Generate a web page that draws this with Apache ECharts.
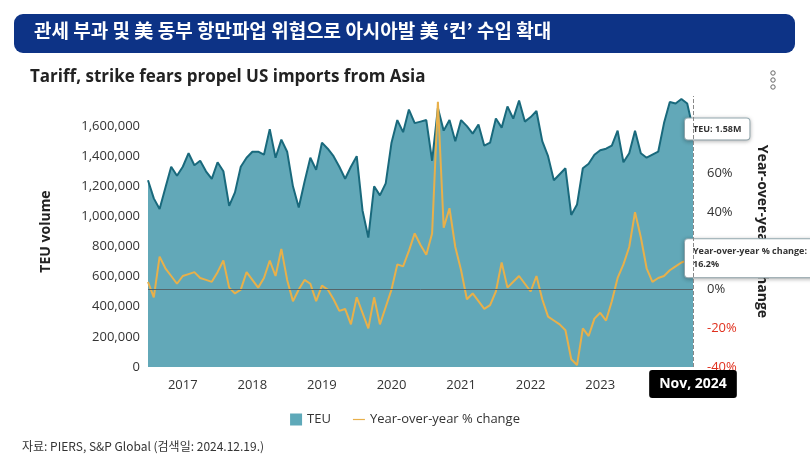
<!DOCTYPE html>
<html>
<head>
<meta charset="utf-8">
<script src="https://cdn.jsdelivr.net/npm/echarts@6/dist/echarts.min.js"></script>
<style>
  html, body { margin: 0; padding: 0; background: #fff; }
  #chart { width: 810px; height: 467px; }
</style>
</head>
<body>
<div id="chart"></div>
<script>
// monthly, Jan 2017 - Nov 2024
const years = [2017, 2018, 2019, 2020, 2021, 2022, 2023, 2024];
const monthNames = ['Jan', 'Feb', 'Mar', 'Apr', 'May', 'Jun', 'Jul', 'Aug', 'Sep', 'Oct', 'Nov', 'Dec'];

// TEU volume, millions
const teu = [
  1.24, 1.12, 1.05, 1.19, 1.33, 1.27, 1.33, 1.42, 1.34, 1.37, 1.30, 1.25,
  1.36, 1.30, 1.07, 1.16, 1.33, 1.39, 1.43, 1.43, 1.41, 1.58, 1.39, 1.51,
  1.43, 1.20, 1.06, 1.23, 1.39, 1.31, 1.49, 1.45, 1.40, 1.33, 1.25, 1.33,
  1.40, 1.04, 0.86, 1.20, 1.14, 1.22, 1.49, 1.64, 1.56, 1.71, 1.62, 1.63,
  1.64, 1.37, 1.72, 1.57, 1.64, 1.50, 1.64, 1.60, 1.55, 1.61, 1.47, 1.49,
  1.65, 1.59, 1.73, 1.65, 1.77, 1.63, 1.66, 1.70, 1.50, 1.40, 1.24, 1.28,
  1.32, 1.01, 1.08, 1.32, 1.35, 1.41, 1.44, 1.45, 1.47, 1.57, 1.36, 1.42,
  1.57, 1.42, 1.39, 1.41, 1.43, 1.62, 1.76, 1.75, 1.78, 1.75, 1.58
];

// year-over-year % change
const yoy = [
  4, -4, 17, 11, 7, 3, 7, 8, 9, 6, 5, 4,
  9, 15, 1, -2, 0, 9, 5, 1, 6, 15, 7, 21,
  5, -6, 0, 5, 3, -6, 2, 0, -5, -11, -10, -18,
  -4, -12, -20, -4, -18, -9, 0, 13, 12, 20, 29, 23,
  18, 29, 97, 32, 42, 22, 10, -5, -2, -6, -10, -8,
  -1, 14, 1, 4, 7, 3, -1, 7, -5, -14, -16, -18,
  -21, -36, -39, -20, -24, -15, -12, -16, -6, 6, 13, 22,
  40, 27, 11, 4, 6, 7, 10, 12, 14, 15, 16.2
];

const categories = [];
years.forEach(y => monthNames.forEach(m => categories.push(m + ', ' + y)));
categories.length = teu.length;

const teuData = teu.map(v => Math.round(v * 1000000));
const last = categories.length - 1;

const chart = echarts.init(document.getElementById('chart'));

const boxLabel = {
  show: true,
  backgroundColor: '#fff',
  borderColor: '#9fb6bd',
  borderWidth: 1,
  borderRadius: 3,
  shadowColor: 'rgba(0,0,0,0.25)',
  shadowBlur: 4,
  shadowOffsetY: 1,
  padding: [6, 8],
  color: '#333',
  fontSize: 9,
  fontWeight: 'bold',
  align: 'left',
  fontFamily: 'Open Sans'
};

chart.setOption({
  animation: false,
  textStyle: { fontFamily: 'Open Sans' },
  graphic: [
    {
      type: 'rect',
      shape: { x: 14, y: 14, width: 781, height: 39, r: 9 },
      style: { fill: '#0d3386' }
    },
    {
      type: 'text',
      left: 34, top: 21,
      style: {
        text: '관세 부과 및 美 동부 항만파업 위협으로 아시아발 美 ‘컨’ 수입 확대',
        fill: '#fff', font: 'bold 19px "Noto Sans CJK KR"'
      }
    },
    {
      type: 'text',
      left: 30, top: 69,
      style: {
        text: 'Tariff, strike fears propel US imports from Asia',
        fill: '#222', font: 'bold 17px "Open Sans"'
      }
    },
    { type: 'circle', shape: { cx: 773, cy: 73, r: 2.2 }, style: { fill: '#fff', stroke: '#666' } },
    { type: 'circle', shape: { cx: 773, cy: 80, r: 2.2 }, style: { fill: '#fff', stroke: '#666' } },
    { type: 'circle', shape: { cx: 773, cy: 87, r: 2.2 }, style: { fill: '#fff', stroke: '#666' } },
    {
      type: 'text',
      left: 22, top: 440,
      style: {
        text: '자료: PIERS, S&P Global (검색일: 2024.12.19.)',
        fill: '#333', font: '12px "Noto Sans CJK KR"'
      }
    }
  ],
  legend: {
    bottom: 36,
    left: 'center',
    itemGap: 22,
    textStyle: { fontSize: 13, color: '#333' },
    data: [
      { name: 'TEU', icon: 'rect', itemStyle: { color: '#5ea9b9' } },
      { name: 'Year-over-year % change', icon: 'path://M0,5 L20,5 L20,7 L0,7 Z', itemStyle: { color: '#e8b04a' } }
    ],
    itemWidth: 12, itemHeight: 12
  },
  grid: { left: 148, right: 117, top: 96, bottom: 100 },
  xAxis: {
    type: 'category',
    data: categories,
    boundaryGap: false,
    axisLine: { show: false },
    axisTick: { show: false },
    axisLabel: {
      interval: (i) => i % 12 === 6,
      formatter: (v) => v.split(', ')[1],
      fontSize: 13, color: '#333', margin: 12,
      hideOverlap: false
    },
    axisPointer: {
      show: true,
      value: last,
      status: 'show',
      type: 'line',
      lineStyle: { color: '#888', type: 'dashed', width: 1 },
      label: {
        show: true,
        backgroundColor: '#000',
        color: '#fff',
        fontSize: 14,
        fontWeight: 'bold',
        padding: [7, 10],
        formatter: (p) => p.value
      }
    }
  },
  yAxis: [
    {
      type: 'value',
      min: 0, max: 1800000, interval: 200000,
      name: 'TEU volume',
      nameLocation: 'middle',
      nameGap: 95,
      nameTextStyle: { fontSize: 14, fontWeight: 'bold', color: '#222' },
      splitLine: { show: false },
      axisLabel: {
        showMaxLabel: false,
        fontSize: 13, color: '#333',
        formatter: (v) => v.toLocaleString('en-US')
      }
    },
    {
      type: 'value',
      min: -40, max: 100, interval: 20,
      name: 'Year-over-year % change',
      nameLocation: 'middle',
      nameGap: 62,
      nameRotate: -90,
      nameTextStyle: { fontSize: 14, fontWeight: 'bold', color: '#222' },
      splitLine: { show: false },
      axisLabel: {
        showMaxLabel: false,
        fontSize: 13,
        margin: 14,
        formatter: (v) => v < 0 ? '{neg|' + v + '%}' : v + '%',
        color: '#333',
        rich: { neg: { color: '#e0301e', fontSize: 13 } }
      }
    }
  ],
  series: [
    {
      name: 'TEU',
      type: 'line',
      data: teuData,
      symbol: 'none',
      lineStyle: { color: '#19697c', width: 2 },
      itemStyle: { color: '#5ea9b9' },
      areaStyle: { color: '#62a8b8', opacity: 1 },
      markPoint: {
        symbol: 'circle',
        symbolSize: 0,
        data: [{ coord: [last, teuData[last]] }],
        label: Object.assign({}, boxLabel, {
          position: 'left',
          distance: 8,
          formatter: 'TEU: 1.58M'
        })
      }
    },
    {
      name: 'Year-over-year % change',
      type: 'line',
      yAxisIndex: 1,
      data: yoy,
      symbol: 'none',
      lineStyle: { color: '#e8b04a', width: 2 },
      itemStyle: { color: '#e8b04a' },
      markLine: {
        silent: true,
        symbol: 'none',
        label: { show: false },
        lineStyle: { color: '#55656a', type: 'solid', width: 1 },
        data: [{ yAxis: 0 }]
      },
      markPoint: {
        symbol: 'circle',
        symbolSize: 0,
        data: [{ coord: [last, yoy[last]] }],
        label: Object.assign({}, boxLabel, {
          position: 'left',
          distance: 8,
          lineHeight: 13,
          formatter: 'Year-over-year % change:\n16.2%'
        })
      }
    }
  ]
});
</script>
</body>
</html>
